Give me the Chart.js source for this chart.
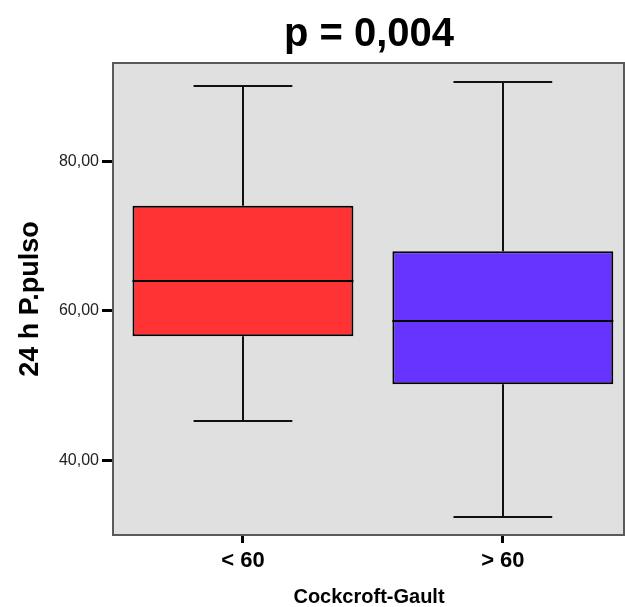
<!DOCTYPE html>
<html>
<head>
<meta charset="utf-8">
<script src="https://cdn.jsdelivr.net/npm/chart.js@4/dist/chart.umd.min.js"></script>
<style>
  html, body { margin: 0; padding: 0; background: #fff; overflow: hidden; }
  #wrap { position: relative; width: 625px; height: 607px; }
</style>
</head>
<body>
<div id="wrap"><canvas id="chart"></canvas></div>
<script>
// Groups and their positions on the x axis
const groups = ['< 60', '> 60'];
const groupPos = [1, 2];

// Five-number summaries of 24 h pulse pressure per group
const whiskerLow  = [45.3, 32.4];
const quartile1   = [56.6, 50.2];
const medians     = [64.0, 58.7];
const quartile3   = [74.1, 68.0];
const whiskerHigh = [90.1, 90.7];

const boxColors = ['#ff3333', '#6633ff'];
const yTicks = [40, 60, 80];

const FONT = '"Liberation Sans", Arial, Helvetica, sans-serif';
const BOX_WIDTH = 0.85;

// Gray plot background, whiskers with caps, medians and the frame round the plot
const boxPlotDecor = {
  id: 'boxPlotDecor',
  beforeDraw(chart) {
    const { ctx, chartArea: a } = chart;
    ctx.save();
    ctx.fillStyle = '#e0e0e0';
    ctx.fillRect(a.left, a.top, a.right - a.left, a.bottom - a.top);
    ctx.restore();
  },
  beforeDatasetsDraw(chart) {
    const { ctx } = chart;
    const xs = chart.scales.x, ys = chart.scales.y;
    const capHalf = 0.19;
    ctx.save();
    ctx.strokeStyle = '#111';
    ctx.lineWidth = 2;
    groupPos.forEach((pos, i) => {
      const x = Math.round(xs.getPixelForValue(pos));
      const xl = xs.getPixelForValue(pos - capHalf);
      const xr = xs.getPixelForValue(pos + capHalf);
      const yLo = Math.round(ys.getPixelForValue(whiskerLow[i]));
      const yQ1 = ys.getPixelForValue(quartile1[i]);
      const yQ3 = ys.getPixelForValue(quartile3[i]);
      const yHi = Math.round(ys.getPixelForValue(whiskerHigh[i]));
      ctx.beginPath();
      ctx.moveTo(x, yLo); ctx.lineTo(x, yQ1);
      ctx.moveTo(x, yQ3); ctx.lineTo(x, yHi);
      ctx.moveTo(xl, yLo); ctx.lineTo(xr, yLo);
      ctx.moveTo(xl, yHi); ctx.lineTo(xr, yHi);
      ctx.stroke();
    });
    ctx.restore();
  },
  afterDatasetsDraw(chart) {
    const { ctx } = chart;
    const xs = chart.scales.x, ys = chart.scales.y;
    ctx.save();
    ctx.strokeStyle = '#000';
    ctx.lineWidth = 2;
    groupPos.forEach((pos, i) => {
      const xl = xs.getPixelForValue(pos - BOX_WIDTH / 2);
      const xr = xs.getPixelForValue(pos + BOX_WIDTH / 2);
      const y = Math.round(ys.getPixelForValue(medians[i]));
      ctx.beginPath();
      ctx.moveTo(xl, y); ctx.lineTo(xr, y);
      ctx.stroke();
    });
    ctx.restore();
  },
  afterDraw(chart) {
    const { ctx, chartArea: a } = chart;
    ctx.save();
    ctx.strokeStyle = '#5a5a5a';
    ctx.lineWidth = 2;
    ctx.strokeRect(a.left, a.top, a.right - a.left - 1, a.bottom - a.top);
    ctx.restore();
  }
};

new Chart(document.getElementById('chart'), {
  type: 'bar',
  data: {
    datasets: [
      {
        label: 'Q1 - Q3',
        data: groupPos.map((x, i) => ({ x, y: [quartile1[i], quartile3[i]] })),
        backgroundColor: boxColors,
        borderColor: '#000',
        borderWidth: 2,
        borderSkipped: false,
        categoryPercentage: 1,
        barPercentage: BOX_WIDTH
      }
    ]
  },
  options: {
    responsive: true,
    maintainAspectRatio: false,
    animation: false,
    layout: { padding: { left: 0, right: 0, top: 0, bottom: 0 } },
    plugins: {
      legend: { display: false },
      tooltip: { enabled: false },
      title: {
        display: true,
        text: 'p = 0,004',
        fullSize: false,
        color: '#000',
        font: { family: FONT, size: 40, weight: 'bold' },
        padding: { top: 11, bottom: 4 }
      }
    },
    scales: {
      x: {
        type: 'linear',
        min: 0.5,
        max: 2.47,
        offset: false,
        afterBuildTicks: s => { s.ticks = groupPos.map(v => ({ value: v })); },
        afterFit: s => { s.height = 72; },
        ticks: {
          color: '#000',
          padding: 5,
          font: { family: FONT, size: 22, weight: 'bold' },
          callback: v => groups[groupPos.indexOf(v)]
        },
        grid: {
          offset: false,
          drawOnChartArea: false,
          drawTicks: true,
          tickLength: 8,
          tickWidth: 3,
          tickColor: '#000'
        },
        border: { display: false },
        title: {
          display: true,
          text: 'Cockcroft-Gault',
          color: '#000',
          font: { family: FONT, size: 20, weight: 'bold', lineHeight: 1 },
          padding: { top: 0, bottom: 0 }
        }
      },
      y: {
        min: 30,
        max: 93.2,
        afterBuildTicks: s => { s.ticks = yTicks.map(v => ({ value: v })); },
        afterFit: s => { s.width = 113; },
        ticks: {
          color: '#222',
          padding: 3,
          font: { family: FONT, size: 16 },
          callback: v => v.toFixed(2).replace('.', ',')
        },
        grid: {
          drawOnChartArea: false,
          drawTicks: true,
          tickLength: 11,
          tickWidth: 3,
          tickColor: '#000'
        },
        border: { display: false },
        title: {
          display: true,
          text: '24 h P.pulso',
          color: '#000',
          font: { family: FONT, size: 27, weight: 'bold' },
          padding: { top: 14, bottom: 0 }
        }
      }
    }
  },
  plugins: [boxPlotDecor]
});
</script>
</body>
</html>
